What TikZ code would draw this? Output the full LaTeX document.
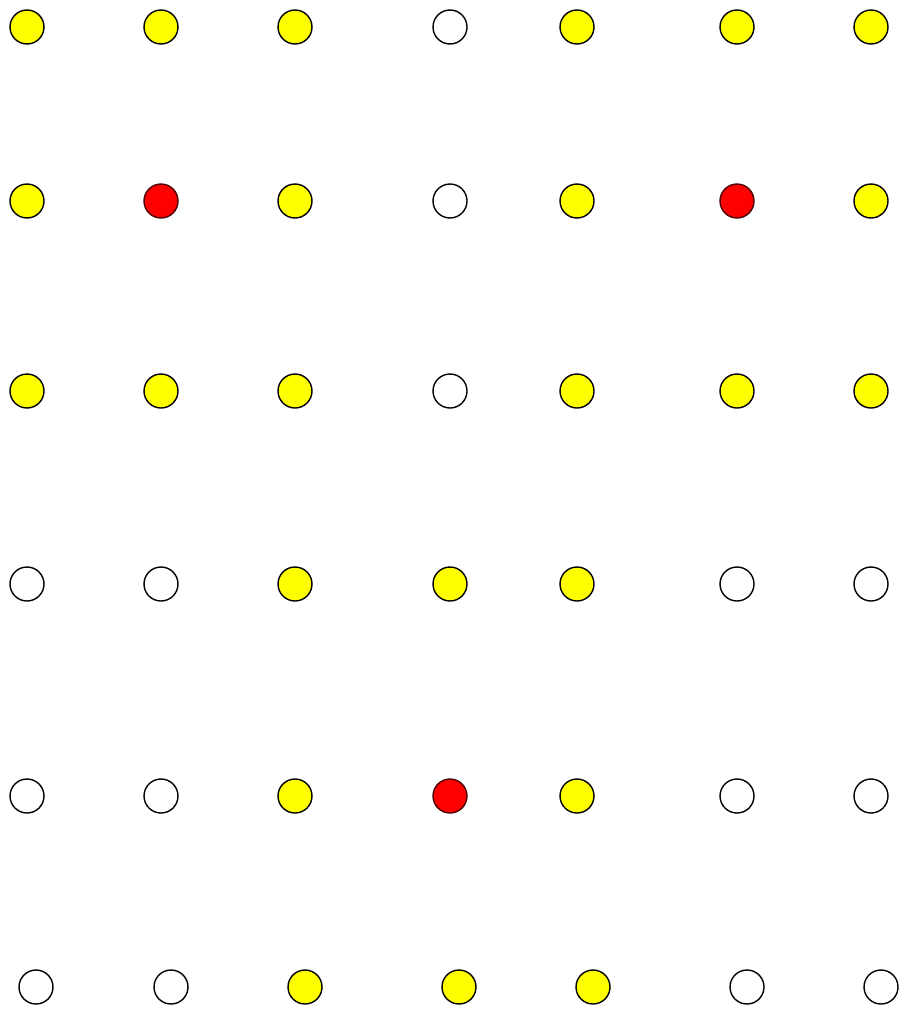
\documentclass[tikz,border=0pt]{standalone}
\definecolor{yel}{RGB}{255,255,0}
\definecolor{rd}{RGB}{255,0,0}
\begin{document}
\begin{tikzpicture}[x=1pt,y=-1pt,
  dot/.style={circle,draw=black,line width=1.4pt,minimum size=34pt,inner sep=0pt},
  Y/.style={dot,fill=yel},
  R/.style={dot,fill=rd,draw=black!70!red},
  W/.style={dot,fill=white}]
\useasboundingbox (0,0) rectangle (903,1012);
\def\cols{27,161,295,450,577,737,871}
\def\colsb{36,171,305,459,593,747,881}
% row 1
\foreach \t [count=\i] in {Y,Y,Y,W,Y,Y,Y}{
  \pgfmathparse{{\cols}[\i-1]}\let\xx\pgfmathresult
  \node[\t] (a\i) at (\xx,27) {};}
% row 2
\foreach \t [count=\i] in {Y,R,Y,W,Y,R,Y}{
  \pgfmathparse{{\cols}[\i-1]}\let\xx\pgfmathresult
  \node[\t] (b\i) at (\xx,201) {};}
% row 3
\foreach \t [count=\i] in {Y,Y,Y,W,Y,Y,Y}{
  \pgfmathparse{{\cols}[\i-1]}\let\xx\pgfmathresult
  \node[\t] (c\i) at (\xx,391) {};}
% row 4
\foreach \t [count=\i] in {W,W,Y,Y,Y,W,W}{
  \pgfmathparse{{\cols}[\i-1]}\let\xx\pgfmathresult
  \node[\t] (d\i) at (\xx,584) {};}
% row 5
\foreach \t [count=\i] in {W,W,Y,R,Y,W,W}{
  \pgfmathparse{{\cols}[\i-1]}\let\xx\pgfmathresult
  \node[\t] (e\i) at (\xx,796) {};}
% row 6
\foreach \t [count=\i] in {W,W,Y,Y,Y,W,W}{
  \pgfmathparse{{\colsb}[\i-1]}\let\xx\pgfmathresult
  \node[\t] (f\i) at (\xx,987) {};}
\end{tikzpicture}
\end{document}
